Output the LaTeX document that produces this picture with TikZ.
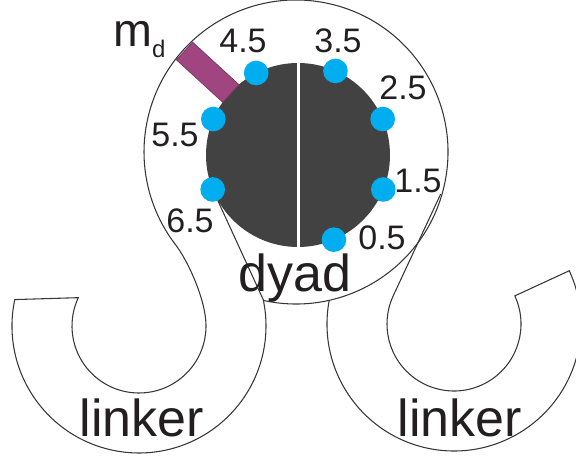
\documentclass[tikz,border=0pt]{standalone}
\usepackage{fontspec}
\setmainfont{Liberation Sans}
\usetikzlibrary{positioning}

\definecolor{coregray}{RGB}{67,66,66}
\definecolor{sitecyan}{RGB}{0,174,239}
\definecolor{barpurple}{RGB}{160,69,128}
\definecolor{wallgray}{RGB}{55,55,55}
\definecolor{inkblack}{RGB}{35,31,32}

\begin{document}
\begin{tikzpicture}[x=0.75pt, y=0.75pt,
          wall/.style={draw=wallgray, line width=0.8pt},
          site/.style={circle, fill=sitecyan, inner sep=0pt, minimum size=18.5pt},
          num/.style={anchor=base, inner sep=0pt, text=inkblack, font=\fontsize{25.5}{25.5}\selectfont},
          tag/.style={anchor=base, inner sep=0pt, text=inkblack, font=\fontsize{39}{39}\selectfont}
        ]
        \useasboundingbox (0,0) rectangle (576,456);
        \coordinate (D) at (298,301);
        \coordinate (O) at (296,304);
        \coordinate (C1) at (139,130);
        \coordinate (C2) at (454,132);
        \coordinate (P2) at ([shift={(257.4:152)}]O);
        % dyad core, split in two halves
        \fill[coregray] (D) circle (92);
        \draw[white, line width=2.25pt] (298,209) -- (298,393);
        % m_d bar
        \begin{scope}[shift={(D)}, rotate=137.5]
          \draw[barpurple!75!black, fill=barpurple, line width=0.5pt] (91,-12) rectangle (154,12);
        \end{scope}
        % binding sites
        \foreach \i/\a in {0/293, 1/338, 2/23, 3/66, 4/117, 5/157, 6/202} {
          \node[site] (site\i) at ([shift={(\a:92)}]D) {};
        }
        % outer circle with the left linker
        \draw[wall] (P2) arc[start angle=257.4, end angle=577.5, radius=152]
          .. controls +(-52.5:20) and +(95:25) .. ([shift={(5:67)}]C1)
          arc[start angle=5, end angle=-205, radius=67]
          -- ([shift={(168:127)}]C1) arc[start angle=168, end angle=372, radius=127]
          -- (site6);
        % right linker
        \draw[wall] ([shift={(169.5:127)}]C2) arc[start angle=169.5, end angle=384.8, radius=127]
          -- ([shift={(24.8:67)}]C2) arc[start angle=24.8, end angle=-205, radius=67]
          -- ++(65:112);
        \foreach \i/\x/\y in {0/382/206, 1/418/263, 2/403/356, 3/338/403, 4/243/403, 5/175/309, 6/190/223} {
          \node[num] (lab\i) at (\x,\y) {\i.5};
        }
        \node[anchor=base west, inner sep=0pt, text=inkblack, font=\fontsize{35}{35}\selectfont] (md) at (113,409)
          {m\raisebox{-8pt}{\fontsize{18}{18}\selectfont d}};
        \node[tag] (dyad) at (295,164) {dyad};
        \node[tag] (linkL) at (142,19) {linker};
        \node[tag] (linkR) at (460,19) {linker};
      \end{tikzpicture}
\end{document}
